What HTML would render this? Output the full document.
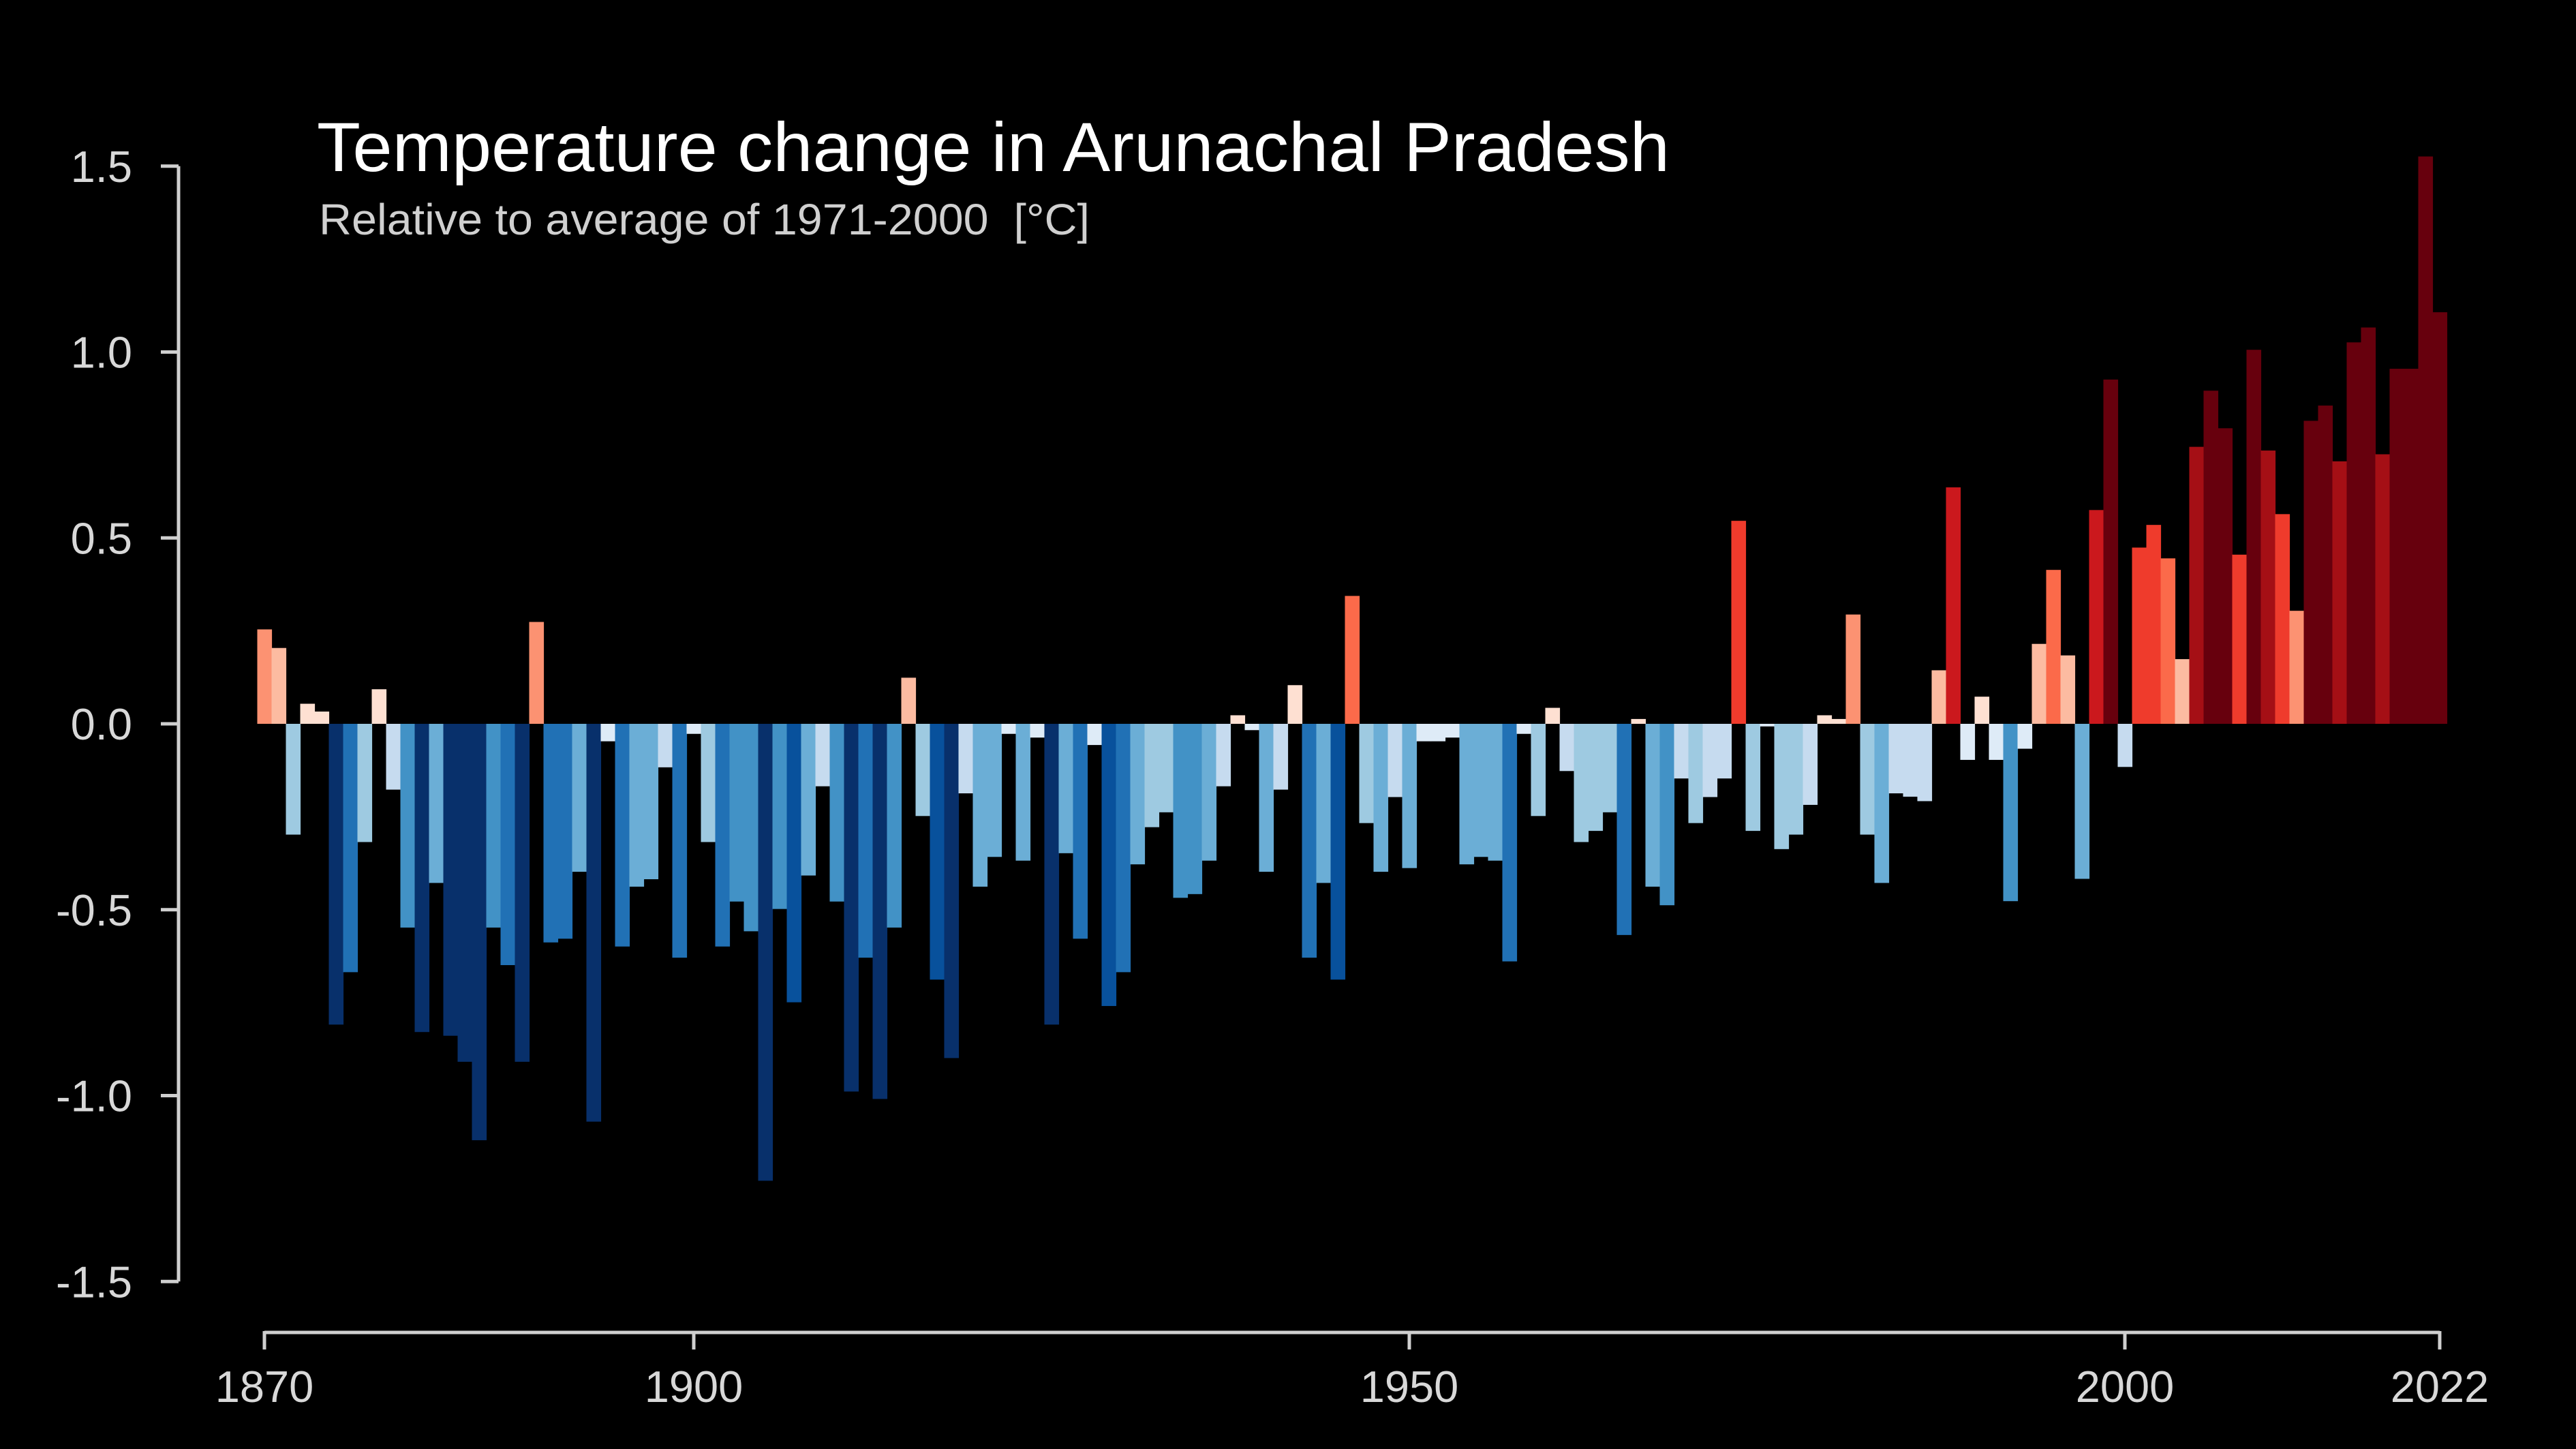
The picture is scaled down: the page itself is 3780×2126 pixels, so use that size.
<!DOCTYPE html>
<html><head><meta charset="utf-8"><style>
html,body{margin:0;padding:0;background:#000;}
svg{display:block;font-family:"Liberation Sans",Arial,sans-serif;}
</style></head><body>
<svg id="chart" width="3780" height="2126" viewBox="0 0 3780 2126" xmlns="http://www.w3.org/2000/svg">
<rect width="3780" height="2126" fill="#000"/>
<text x="465" y="251" fill="#ffffff" font-size="102" textLength="1985" lengthAdjust="spacingAndGlyphs">Temperature change in Arunachal Pradesh</text>
<text x="468" y="344" fill="#d0d0d0" font-size="64" textLength="1131" lengthAdjust="spacingAndGlyphs" xml:space="preserve">Relative to average of 1971-2000  [°C]</text>
<g id="bars"></g>
<g id="yaxis"></g>
<g id="xaxis"></g>
</svg>
<script>
const startYear = 1870;
const anomalies = [
0.254,0.204,-0.298,0.054,0.033,-0.809,-0.668,-0.318,0.093,-0.177,
-0.548,-0.829,-0.428,-0.839,-0.909,-1.12,-0.548,-0.649,-0.909,0.274,
-0.588,-0.578,-0.398,-1.07,-0.047,-0.599,-0.438,-0.418,-0.117,-0.629,
-0.027,-0.318,-0.599,-0.478,-0.558,-1.229,-0.498,-0.749,-0.408,-0.168,
-0.478,-0.989,-0.629,-1.009,-0.548,0.124,-0.248,-0.688,-0.899,-0.187,
-0.438,-0.358,-0.027,-0.368,-0.037,-0.809,-0.348,-0.578,-0.057,-0.759,
-0.668,-0.378,-0.278,-0.238,-0.468,-0.458,-0.368,-0.168,0.023,-0.017,
-0.398,-0.177,0.104,-0.629,-0.428,-0.688,0.344,-0.267,-0.398,-0.197,
-0.388,-0.047,-0.047,-0.037,-0.378,-0.358,-0.368,-0.639,-0.027,-0.248,
0.043,-0.127,-0.318,-0.288,-0.238,-0.568,0.013,-0.438,-0.488,-0.147,
-0.267,-0.197,-0.147,0.546,-0.288,-0.007,-0.337,-0.298,-0.218,0.023,
0.013,0.294,-0.298,-0.428,-0.187,-0.196,-0.208,0.144,0.636,-0.097,
0.073,-0.097,-0.477,-0.067,0.215,0.414,0.184,-0.417,0.575,0.926,
-0.116,0.474,0.535,0.445,0.174,0.745,0.896,0.795,0.455,1.006,
0.735,0.564,0.304,0.815,0.856,0.706,1.026,1.066,0.725,0.955,
0.955,1.526,1.107];
const yTicks = [1.5,1.0,0.5,0.0,-0.5,-1.0,-1.5];
const yTickLabels = ["1.5","1.0","0.5","0.0","-0.5","-1.0","-1.5"];
const xTicks = [1870,1900,1950,2000,2022];
const blues = ["#deebf7","#c6dbef","#9ecae1","#6baed6","#4292c6","#2171b5","#08519c","#08306b"];
const reds = ["#fee0d2","#fcbba1","#fc9272","#fb6a4a","#ef3b2c","#cb181d","#a50f15","#67000d"];

const NS = "http://www.w3.org/2000/svg";
const X0 = 388, X1 = 3580, Y0 = 1062, PPU = 545.5;
const endYear = 2022;
function xScale(yr){ return X0 + (yr - startYear) * (X1 - X0) / (endYear - startYear); }
function yScale(v){ return Y0 - v * PPU; }
const bw = (X1 - X0) / (endYear - startYear);
function color(v){
  const i = Math.min(7, Math.floor(Math.abs(v) / 0.1133));
  return v >= 0 ? reds[i] : blues[i];
}
const bars = document.getElementById('bars');
anomalies.forEach((v, i) => {
  const yr = startYear + i;
  const r = document.createElementNS(NS, 'rect');
  
  
  const y = Math.min(yScale(v), yScale(0));
  r.setAttribute('x', xScale(yr) - bw / 2);
  r.setAttribute('y', y);
  r.setAttribute('width', bw + 0.6);
  r.setAttribute('height', Math.abs(yScale(v) - yScale(0)));
  r.setAttribute('fill', color(v));
  bars.appendChild(r);
});
const ya = document.getElementById('yaxis');
const yl = document.createElementNS(NS, 'line');


yl.setAttribute('x1', 262); yl.setAttribute('x2', 262);
yl.setAttribute('y1', yScale(1.5)); yl.setAttribute('y2', yScale(-1.5));
yl.setAttribute('stroke', '#cfcfcf'); yl.setAttribute('stroke-width', 5);
ya.appendChild(yl);
yTicks.forEach((t, i) => {
  const tk = document.createElementNS(NS, 'line');
  
  
  tk.setAttribute('x1', 236); tk.setAttribute('x2', 262);
  tk.setAttribute('y1', yScale(t)); tk.setAttribute('y2', yScale(t));
  tk.setAttribute('stroke', '#cfcfcf'); tk.setAttribute('stroke-width', 5);
  ya.appendChild(tk);
  const tx = document.createElementNS(NS, 'text');
  
  
  tx.setAttribute('x', 194); tx.setAttribute('y', yScale(t) + 23);
  tx.setAttribute('text-anchor', 'end'); tx.setAttribute('font-size', 65);
  tx.setAttribute('fill', '#d8d8d8');
  tx.textContent = yTickLabels[i];
  ya.appendChild(tx);
});
const xa = document.getElementById('xaxis');
const xl = document.createElementNS(NS, 'line');


xl.setAttribute('x1', xScale(startYear)); xl.setAttribute('x2', xScale(endYear));
xl.setAttribute('y1', 1955); xl.setAttribute('y2', 1955);
xl.setAttribute('stroke', '#cfcfcf'); xl.setAttribute('stroke-width', 5);
xa.appendChild(xl);
xTicks.forEach(t => {
  const tk = document.createElementNS(NS, 'line');
  
  
  tk.setAttribute('x1', xScale(t)); tk.setAttribute('x2', xScale(t));
  tk.setAttribute('y1', 1953); tk.setAttribute('y2', 1980);
  tk.setAttribute('stroke', '#cfcfcf'); tk.setAttribute('stroke-width', 5);
  xa.appendChild(tk);
  const tx = document.createElementNS(NS, 'text');
  
  
  tx.setAttribute('x', xScale(t)); tx.setAttribute('y', 2057);
  tx.setAttribute('text-anchor', 'middle'); tx.setAttribute('font-size', 65);
  tx.setAttribute('fill', '#d8d8d8');
  tx.textContent = String(t);
  xa.appendChild(tx);
});
</script>
</body></html>
